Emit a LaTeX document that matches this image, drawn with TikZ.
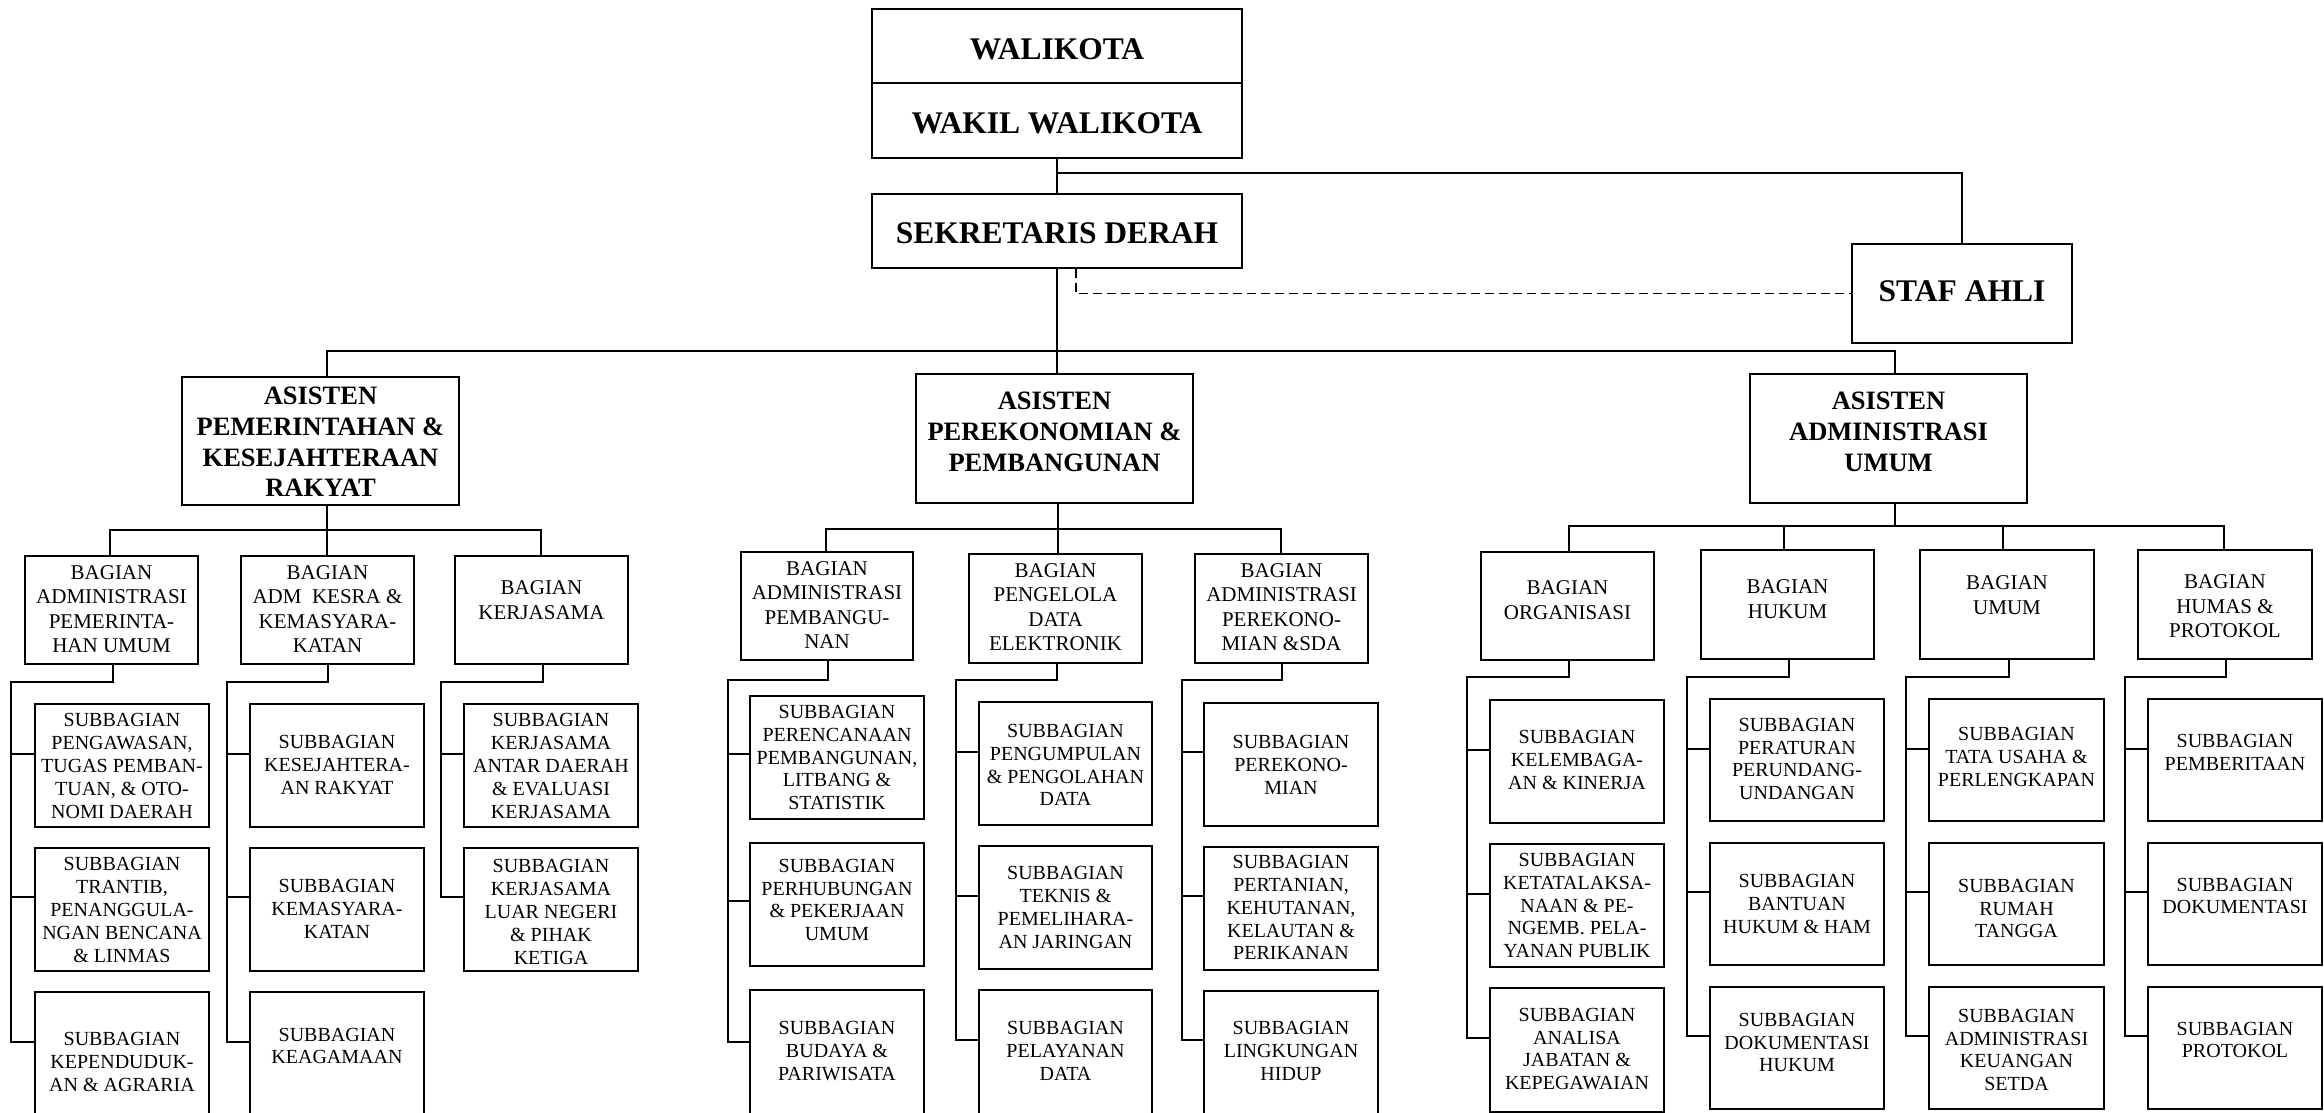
\documentclass[tikz,border=0pt]{standalone}
\usepackage{fontspec}
\setmainfont{Liberation Serif}
\begin{document}
\begin{tikzpicture}[x=1pt,y=-1pt,
  box/.style={draw, line width=1.3pt, rectangle, inner sep=0pt},
  sub/.style={align=center, inner sep=0pt, font=\fontsize{20}{22.9}\selectfont},
  bag/.style={align=center, inner sep=0pt, font=\fontsize{21}{24.4}\selectfont},
  asi/.style={align=center, inner sep=0pt, font=\fontsize{26.5}{30.7}\selectfont\bfseries},
  top/.style={align=center, inner sep=0pt, font=\fontsize{31.5}{36}\selectfont\bfseries},
  conn/.style={line width=1.8pt},
  bus/.style={line width=2.4pt},
  thinl/.style={line width=1.2pt},
  dashl/.style={line width=1.7pt, dash pattern=on 9pt off 5pt}]
\newcommand{\obox}[8]{%
  \node[box, minimum width={(#4-#2)*1pt}, minimum height={(#5-#3)*1pt}] (#1) at ({(#2+#4)/2},{(#3+#5)/2}) {};
  \node[#7] (#1t) at ({(#2+#4)/2},#6) {#8};}
\fill[white] (0,0) rectangle (2324,1113);
\useasboundingbox (0,0) rectangle (2324,1113);
\clip (0,0) rectangle (2324,1113);

% top
\obox{wal}{872}{9}{1242}{83}{49.5}{top}{WALIKOTA}
\obox{wakil}{872}{83}{1242}{158}{123}{top}{WAKIL WALIKOTA}
\obox{sek}{872}{194}{1242}{268}{233}{top}{SEKRETARIS DERAH}
\obox{staf}{1852}{244}{2072}{343}{291}{top}{STAF AHLI}

% asisten
\obox{AP}{182}{377}{459}{505}{442}{asi}{ASISTEN\\PEMERINTAHAN \&\\KESEJAHTERAAN\\RAKYAT}
\obox{AM}{916}{374}{1193}{503}{432}{asi}{ASISTEN\\PEREKONOMIAN \&\\PEMBANGUNAN}
\obox{AR}{1750}{374}{2027}{503}{432}{asi}{ASISTEN\\ADMINISTRASI\\UMUM}

% left group
\obox{B1}{25}{556}{198}{664}{609}{bag}{BAGIAN\\ADMINISTRASI\\PEMERINTA-\\HAN UMUM}
\obox{B2}{241}{556}{414}{664}{609}{bag}{BAGIAN\\ADM\ \ KESRA \&\\KEMASYARA-\\KATAN}
\obox{B3}{455}{556}{628}{664}{600}{bag}{BAGIAN\\KERJASAMA}
\obox{S1a}{35}{704}{209}{827}{766}{sub}{SUBBAGIAN\\PENGAWASAN,\\TUGAS PEMBAN-\\TUAN, \& OTO-\\NOMI DAERAH}
\obox{S1b}{35}{848}{209}{971}{910}{sub}{SUBBAGIAN\\TRANTIB,\\PENANGGULA-\\NGAN BENCANA\\\& LINMAS}
\obox{S1c}{35}{992}{209}{1135}{1062}{sub}{SUBBAGIAN\\KEPENDUDUK-\\AN \& AGRARIA}
\obox{S2a}{250}{704}{424}{827}{765}{sub}{SUBBAGIAN\\KESEJAHTERA-\\AN RAKYAT}
\obox{S2b}{250}{848}{424}{971}{909}{sub}{SUBBAGIAN\\KEMASYARA-\\KATAN}
\obox{S2c}{250}{992}{424}{1135}{1046}{sub}{SUBBAGIAN\\KEAGAMAAN}
\obox{S3a}{464}{704}{638}{827}{766}{sub}{SUBBAGIAN\\KERJASAMA\\ANTAR DAERAH\\\& EVALUASI\\KERJASAMA}
\obox{S3b}{464}{848}{638}{971}{912}{sub}{SUBBAGIAN\\KERJASAMA\\LUAR NEGERI\\\& PIHAK\\KETIGA}

% middle group
\obox{M1}{741}{552}{913}{660}{605}{bag}{BAGIAN\\ADMINISTRASI\\PEMBANGU-\\NAN}
\obox{M2}{969}{554}{1142}{663}{607}{bag}{BAGIAN\\PENGELOLA\\DATA\\ELEKTRONIK}
\obox{M3}{1195}{554}{1368}{663}{607}{bag}{BAGIAN\\ADMINISTRASI\\PEREKONO-\\MIAN \&SDA}
\obox{M1a}{750}{696}{924}{819}{757.5}{sub}{SUBBAGIAN\\PERENCANAAN\\PEMBANGUNAN,\\LITBANG \&\\STATISTIK}
\obox{M1b}{750}{843}{924}{966}{900}{sub}{SUBBAGIAN\\PERHUBUNGAN\\\& PEKERJAAN\\UMUM}
\obox{M1c}{750}{990}{924}{1135}{1051}{sub}{SUBBAGIAN\\BUDAYA \&\\PARIWISATA}
\obox{M2a}{979}{702}{1152}{825}{765}{sub}{SUBBAGIAN\\PENGUMPULAN\\\& PENGOLAHAN\\DATA}
\obox{M2b}{979}{846}{1152}{969}{907.5}{sub}{SUBBAGIAN\\TEKNIS \&\\PEMELIHARA-\\AN JARINGAN}
\obox{M2c}{979}{990}{1152}{1135}{1051}{sub}{SUBBAGIAN\\PELAYANAN\\DATA}
\obox{M3a}{1204}{703}{1378}{826}{765}{sub}{SUBBAGIAN\\PEREKONO-\\MIAN}
\obox{M3b}{1204}{847}{1378}{970}{907.5}{sub}{SUBBAGIAN\\PERTANIAN,\\KEHUTANAN,\\KELAUTAN \&\\PERIKANAN}
\obox{M3c}{1204}{991}{1378}{1135}{1051}{sub}{SUBBAGIAN\\LINGKUNGAN\\HIDUP}

% right group
\obox{R1}{1481}{552}{1654}{660}{600}{bag}{BAGIAN\\ORGANISASI}
\obox{R2}{1701}{550}{1874}{659}{599}{bag}{BAGIAN\\HUKUM}
\obox{R3}{1920}{550}{2094}{659}{595}{bag}{BAGIAN\\UMUM}
\obox{R4}{2138}{550}{2312}{659}{606.5}{bag}{BAGIAN\\HUMAS \&\\PROTOKOL}
\obox{R1a}{1490}{700}{1664}{823}{760}{sub}{SUBBAGIAN\\KELEMBAGA-\\AN \& KINERJA}
\obox{R1b}{1490}{844}{1664}{967}{905.5}{sub}{SUBBAGIAN\\KETATALAKSA-\\NAAN \& PE-\\NGEMB. PELA-\\YANAN PUBLIK}
\obox{R1c}{1490}{988}{1664}{1112}{1049}{sub}{SUBBAGIAN\\ANALISA\\JABATAN \&\\KEPEGAWAIAN}
\obox{R2a}{1710}{699}{1884}{821}{759}{sub}{SUBBAGIAN\\PERATURAN\\PERUNDANG-\\UNDANGAN}
\obox{R2b}{1710}{843}{1884}{965}{904}{sub}{SUBBAGIAN\\BANTUAN\\HUKUM \& HAM}
\obox{R2c}{1710}{987}{1884}{1109}{1042.5}{sub}{SUBBAGIAN\\DOKUMENTASI\\HUKUM}
\obox{R3a}{1929}{699}{2104}{821}{757}{sub}{SUBBAGIAN\\TATA USAHA \&\\PERLENGKAPAN}
\obox{R3b}{1929}{843}{2104}{965}{908.5}{sub}{SUBBAGIAN\\RUMAH\\TANGGA}
\obox{R3c}{1929}{987}{2104}{1109}{1050}{sub}{SUBBAGIAN\\ADMINISTRASI\\KEUANGAN\\SETDA}
\obox{R4a}{2148}{699}{2322}{821}{752.5}{sub}{SUBBAGIAN\\PEMBERITAAN}
\obox{R4b}{2148}{843}{2322}{965}{896}{sub}{SUBBAGIAN\\DOKUMENTASI}
\obox{R4c}{2148}{987}{2322}{1109}{1040}{sub}{SUBBAGIAN\\PROTOKOL}

% top connectors
\draw[thinl] (wakil.south) -- (sek.north);
\coordinate (jS) at (1057,173);
\draw[thinl] (jS) -| (staf.north);
\draw[dashl] (sek.south) ++(19,0) |- (staf.west);
\coordinate (bL) at (327,351);
\coordinate (bR) at (1895,351);
\draw[bus] (sek.south) -- (sek.south |- bL);
\draw[bus] (AP.north -| bL) -- (bL) -- (bR) -- (AR.north -| bR);
\draw[conn] (sek.south |- bL) -- (AM.north -| sek.south);

% left group connectors
\draw[conn] (AP.south -| bL) -- (327,530);
\draw[conn] (B1.north -| 110,0) -- (110,530) -- (541,530) -- (B3.north -| 541,0);
\draw[conn] (327,530) -- (B2.north -| 327,0);
\draw[conn] (B1.south -| 113,0) -- (113,682) -- (11,682) -- (11,1042) -- (S1c.west |- 0,1042);
\draw[conn] (11,754) -- (S1a.west |- 0,754);
\draw[conn] (11,897) -- (S1b.west |- 0,897);
\draw[conn] (B2.south -| 328,0) -- (328,682) -- (227,682) -- (227,1042) -- (S2c.west |- 0,1042);
\draw[conn] (227,754) -- (S2a.west |- 0,754);
\draw[conn] (227,897) -- (S2b.west |- 0,897);
\draw[conn] (B3.south -| 543,0) -- (543,682) -- (441,682) -- (441,897) -- (S3b.west |- 0,897);
\draw[conn] (441,754) -- (S3a.west |- 0,754);

% middle group connectors
\draw[conn] (AM.south -| 1058,0) -- (1058,529);
\draw[conn] (M1.north -| 826,0) -- (826,529) -- (1281,529) -- (M3.north -| 1281,0);
\draw[conn] (1058,529) -- (M2.north -| 1058,0);
\draw[conn] (M1.south -| 828,0) -- (828,680) -- (728,680) -- (728,1042) -- (M1c.west |- 0,1042);
\draw[conn] (728,754) -- (M1a.west |- 0,754);
\draw[conn] (728,901) -- (M1b.west |- 0,901);
\draw[conn] (M2.south -| 1057,0) -- (1057,680) -- (956,680) -- (956,1040) -- (M2c.west |- 0,1040);
\draw[conn] (956,752) -- (M2a.west |- 0,752);
\draw[conn] (956,896) -- (M2b.west |- 0,896);
\draw[conn] (M3.south -| 1282,0) -- (1282,680) -- (1182,680) -- (1182,1040) -- (M3c.west |- 0,1040);
\draw[conn] (1182,752) -- (M3a.west |- 0,752);
\draw[conn] (1182,896) -- (M3b.west |- 0,896);

% right group connectors
\draw[conn] (AR.south -| bR) -- (1895,526);
\draw[conn] (R1.north -| 1569,0) -- (1569,526) -- (2224,526) -- (R4.north -| 2224,0);
\draw[conn] (1784,526) -- (R2.north -| 1784,0);
\draw[conn] (2003,526) -- (R3.north -| 2003,0);
\draw[conn] (R1.south -| 1569,0) -- (1569,677) -- (1467,677) -- (1467,1038) -- (R1c.west |- 0,1038);
\draw[conn] (1467,750) -- (R1a.west |- 0,750);
\draw[conn] (1467,894) -- (R1b.west |- 0,894);
\draw[conn] (R2.south -| 1789,0) -- (1789,677) -- (1687,677) -- (1687,1036) -- (R2c.west |- 0,1036);
\draw[conn] (1687,749) -- (R2a.west |- 0,749);
\draw[conn] (1687,892) -- (R2b.west |- 0,892);
\draw[conn] (R3.south -| 2009,0) -- (2009,677) -- (1906,677) -- (1906,1036) -- (R3c.west |- 0,1036);
\draw[conn] (1906,749) -- (R3a.west |- 0,749);
\draw[conn] (1906,892) -- (R3b.west |- 0,892);
\draw[conn] (R4.south -| 2226,0) -- (2226,677) -- (2125,677) -- (2125,1036) -- (R4c.west |- 0,1036);
\draw[conn] (2125,749) -- (R4a.west |- 0,749);
\draw[conn] (2125,892) -- (R4b.west |- 0,892);
\end{tikzpicture}
\end{document}
